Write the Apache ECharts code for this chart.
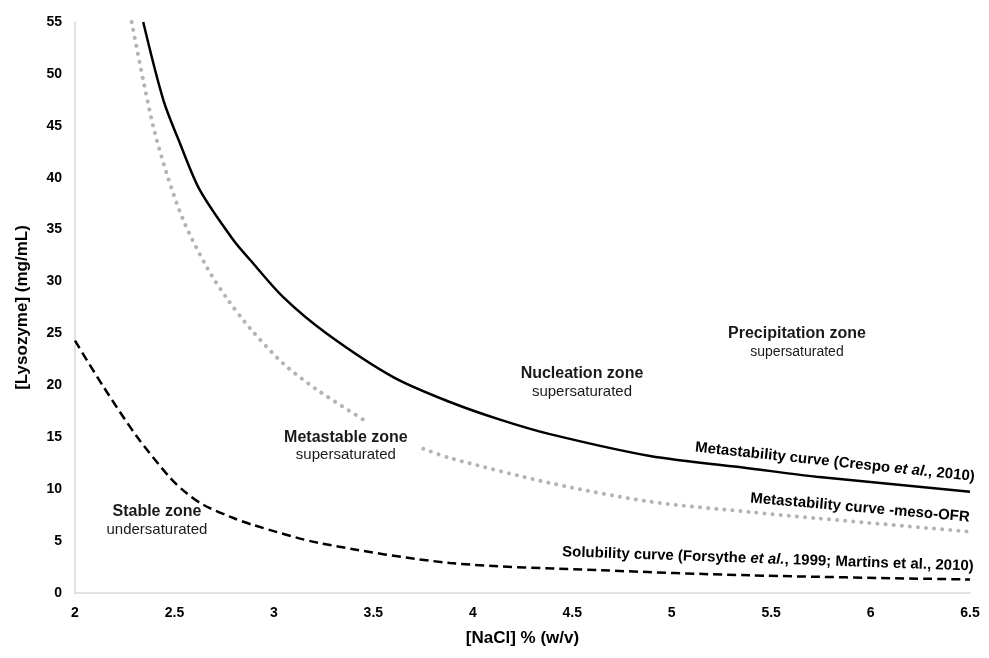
<!DOCTYPE html>
<html>
<head>
<meta charset="utf-8">
<script src="https://cdn.jsdelivr.net/npm/echarts@6/dist/echarts.min.js"></script>
<style>
html,body{margin:0;padding:0;background:#fff;}
#chart{width:989px;height:658px;}
</style>
</head>
<body>
<div id="chart"></div>
<script>
// Data: [NaCl %, Lysozyme mg/mL]
const crespoCurve = [[2.343,55],[2.444,47.5],[2.528,43.3],[2.628,38.8],[2.796,34.0],[2.88,32.1],[3.047,28.5],[3.265,25.0],[3.6,20.8],[3.885,18.4],[4.137,16.7],[4.388,15.3],[4.891,13.2],[5.394,12.0],[5.729,11.2],[6.5,9.76]];
const mesoCurveA = [[2.285,55],[2.343,49.4],[2.394,44.9],[2.461,40.4],[2.545,35.9],[2.662,31.4],[2.763,28.4],[2.88,25.5],[3.047,22.1],[3.215,19.6],[3.466,16.5]];
const mesoCurveB = [[3.751,13.9],[3.885,13.0],[4.388,10.6],[4.891,8.8],[5.394,7.8],[5.729,7.2],[6.5,5.9]];
const solubilityCurve = [[2.0,24.3],[2.142,19.9],[2.31,15.1],[2.478,11.1],[2.562,9.6],[2.645,8.5],[2.779,7.35],[2.896,6.55],[3.232,4.8],[3.885,2.9],[4.64,2.2],[5.394,1.7],[6.5,1.3]];
const xTicks = {min:2, max:6.5, interval:0.5};
const yTicks = {min:0, max:55, interval:5};
const zoneLabels = [
  {title:'Precipitation zone', sub:'supersaturated', at:[5.63,24.95], subSize:14},
  {title:'Nucleation zone', sub:'supersaturated', at:[4.549,21.1], subSize:15},
  {title:'Metastable zone', sub:'supersaturated', at:[3.362,15.0], subSize:15},
  {title:'Stable zone', sub:'undersaturated', at:[2.412,7.8], subSize:15}
];
const curveLabels = [
  {rich:[['Metastability curve (Crespo ','b'],['et al.','bi'],[', 2010)','b']], at:[5.821,12.6], rot:-6},
  {rich:[['Metastability curve -meso-OFR','b']], at:[5.947,8.2], rot:-5},
  {rich:[['Solubility curve (Forsythe ','b'],['et al.','bi'],[', 1999; Martins et al., 2010)','b']], at:[5.484,3.25], rot:-2}
];

const FONT = '"Liberation Sans", Arial, sans-serif';
const chart = echarts.init(document.getElementById('chart'));
const axisLabelStyle = {color:'#000', fontFamily:FONT, fontWeight:'bold', fontSize:14};
chart.setOption({
  animation:false,
  backgroundColor:'#fff',
  grid:{left:75, right:19, top:22, bottom:65, containLabel:false},
  xAxis:{
    type:'value', min:xTicks.min, max:xTicks.max, interval:xTicks.interval,
    name:'[NaCl] % (w/v)', nameLocation:'middle', nameGap:37,
    nameTextStyle:{color:'#000', fontFamily:FONT, fontWeight:'bold', fontSize:17},
    axisLine:{show:true, lineStyle:{color:'#d9d9d9', width:1.5}},
    axisTick:{show:false}, splitLine:{show:false},
    axisLabel:Object.assign({margin:13}, axisLabelStyle)
  },
  yAxis:{
    type:'value', min:yTicks.min, max:yTicks.max, interval:yTicks.interval,
    name:'[Lysozyme] (mg/mL)', nameLocation:'middle', nameGap:44, nameRotate:90,
    nameTextStyle:{color:'#000', fontFamily:FONT, fontWeight:'bold', fontSize:17},
    axisLine:{show:true, lineStyle:{color:'#d9d9d9', width:1.5}},
    axisTick:{show:false}, splitLine:{show:false},
    axisLabel:Object.assign({margin:13}, axisLabelStyle)
  },
  series:[
    {type:'line', data:crespoCurve, smooth:0.3, showSymbol:false,
     lineStyle:{color:'#000', width:2.5}},
    {type:'line', data:mesoCurveA, smooth:0.3, showSymbol:false,
     lineStyle:{color:'#b4b4b4', width:4, type:[0.1,8], cap:'round'}},
    {type:'line', data:mesoCurveB, smooth:0.3, showSymbol:false,
     lineStyle:{color:'#b4b4b4', width:4, type:[0.1,8], cap:'round'}},
    {type:'line', data:solubilityCurve, smooth:0.3, showSymbol:false,
     lineStyle:{color:'#000', width:2.5, type:[9,5]}}
  ]
});

const g = [];
zoneLabels.forEach(z => {
  const p = chart.convertToPixel({gridIndex:0}, z.at);
  g.push({type:'text', x:p[0], y:p[1], style:{text:z.title, fill:'#1a1a1a', font:'bold 16px '+FONT, align:'center', verticalAlign:'middle'}});
  g.push({type:'text', x:p[0], y:p[1]+18, style:{text:z.sub, fill:'#1a1a1a', font:z.subSize+'px '+FONT, align:'center', verticalAlign:'middle'}});
});
curveLabels.forEach(c => {
  const p = chart.convertToPixel({gridIndex:0}, c.at);
  const text = c.rich.map(r => '{'+r[1]+'|'+r[0].replace(/[{}|]/g,'')+'}').join('');
  g.push({type:'text', x:p[0], y:p[1], rotation:c.rot*Math.PI/180,
    style:{text:text, align:'center', verticalAlign:'middle',
      rich:{
        b:{fill:'#000', font:'bold 15px '+FONT},
        bi:{fill:'#000', font:'italic bold 15px '+FONT}
      }}});
});
chart.setOption({graphic:g});
</script>
</body>
</html>
